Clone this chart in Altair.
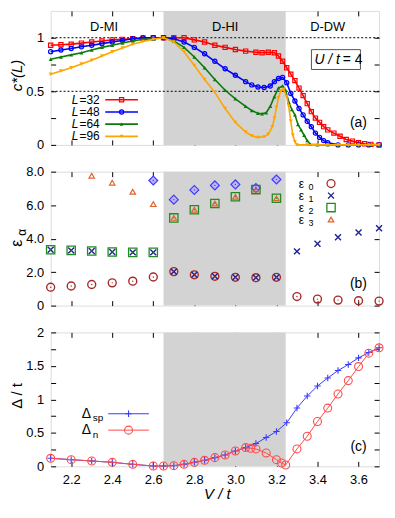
import altair as alt
import pandas as pd

FONT = "Liberation Sans"
W, H = 331, 135
SX = W / 335.0
XDOM = [2.1, 3.7]
XTICKS = [2.2, 2.4, 2.6, 2.8, 3.0, 3.2, 3.4, 3.6]
SHADE_FROM = [2.65]
SHADE_TO = [3.245]

# ---------------- panel (a): c*(L) ----------------
A_V32 = [2.10, 2.15, 2.20, 2.25, 2.30, 2.35, 2.40, 2.45, 2.50, 2.55, 2.60, 2.65, 2.70, 2.75,
         2.80, 2.85, 2.90, 2.95, 3.00, 3.05, 3.10, 3.13, 3.16, 3.19, 3.21, 3.23, 3.25, 3.27,
         3.29, 3.31, 3.33, 3.35, 3.37, 3.39, 3.41, 3.43, 3.45, 3.48, 3.51, 3.54, 3.57, 3.60,
         3.63, 3.66, 3.70]
A_C32 = [0.93, 0.935, 0.94, 0.95, 0.96, 0.97, 0.98, 0.985, 0.99, 0.995, 1.0, 1.0, 1.0, 1.0,
         0.98, 0.96, 0.93, 0.91, 0.89, 0.875, 0.865, 0.86, 0.865, 0.86, 0.83, 0.78, 0.72, 0.66,
         0.60, 0.53, 0.46, 0.385, 0.31, 0.25, 0.21, 0.17, 0.14, 0.11, 0.08, 0.05, 0.035, 0.02,
         0.01, 0.005, 0.0]
A_V48 = [2.10, 2.15, 2.20, 2.25, 2.30, 2.35, 2.40, 2.45, 2.50, 2.55, 2.60, 2.65, 2.70, 2.75,
         2.80, 2.85, 2.90, 2.95, 3.00, 3.05, 3.08, 3.11, 3.14, 3.17, 3.19, 3.21, 3.23, 3.25,
         3.27, 3.29, 3.31, 3.33, 3.35, 3.37, 3.39, 3.41, 3.43, 3.45, 3.50, 3.55, 3.60, 3.65, 3.70]
A_C48 = [0.87, 0.885, 0.90, 0.915, 0.93, 0.945, 0.96, 0.975, 0.99, 1.0, 1.0, 1.0, 0.99, 0.96,
         0.91, 0.85, 0.78, 0.71, 0.65, 0.59, 0.56, 0.54, 0.535, 0.55, 0.59, 0.62, 0.63, 0.58,
         0.48, 0.41, 0.34, 0.28, 0.22, 0.17, 0.11, 0.07, 0.04, 0.02, 0.0, 0.0, 0.0, 0.0, 0.0]
A_V64 = [2.10, 2.15, 2.20, 2.25, 2.30, 2.35, 2.40, 2.45, 2.50, 2.55, 2.60, 2.65, 2.70, 2.75,
         2.80, 2.85, 2.90, 2.95, 3.00, 3.05, 3.08, 3.11, 3.13, 3.15, 3.17, 3.19, 3.21, 3.23,
         3.245, 3.26, 3.275, 3.29, 3.305, 3.32, 3.335, 3.35, 3.365, 3.40, 3.45, 3.50, 3.55,
         3.60, 3.65, 3.70]
A_C64 = [0.80, 0.82, 0.84, 0.86, 0.885, 0.91, 0.93, 0.95, 0.97, 0.985, 0.99, 1.0, 0.97, 0.91,
         0.82, 0.72, 0.61, 0.51, 0.43, 0.36, 0.32, 0.295, 0.29, 0.30, 0.36, 0.45, 0.53, 0.55,
         0.51, 0.40, 0.33, 0.28, 0.19, 0.14, 0.09, 0.04, 0.005, 0.0, 0.0, 0.0, 0.0,
         0.0, 0.0, 0.0]
A_V96 = [2.10, 2.15, 2.20, 2.25, 2.30, 2.35, 2.40, 2.45, 2.50, 2.55, 2.60, 2.65, 2.70, 2.75,
         2.80, 2.85, 2.90, 2.95, 3.00, 3.05, 3.08, 3.11, 3.14, 3.16, 3.18, 3.19, 3.20, 3.21,
         3.22, 3.235, 3.25, 3.26, 3.27, 3.28, 3.29, 3.30, 3.35, 3.40, 3.45, 3.50, 3.55, 3.60,
         3.65, 3.70]
A_C96 = [0.66, 0.69, 0.72, 0.755, 0.79, 0.83, 0.87, 0.905, 0.94, 0.965, 0.985, 1.0, 0.96, 0.87,
         0.74, 0.61, 0.49, 0.34, 0.21, 0.12, 0.085, 0.07, 0.075, 0.10, 0.17, 0.25, 0.35, 0.44,
         0.50, 0.52, 0.45, 0.36, 0.22, 0.09, 0.03, 0.0, 0.0, 0.0, 0.0, 0.0, 0.0, 0.0,
         0.0, 0.0]
A_SIZES = ["32", "48", "64", "96"]
A_COLORS = ["#ff0000", "#0000ff", "#0b7a0b", "#ffa500"]
A_SHAPES = ["square", "circle", "triangle-up", "triangle-down"]
A_FILLED = [False, False, True, True]
REGION_NAMES = ["D-MI", "D-HI", "D-DW"]
REGION_AT = [2.36, 2.95, 3.45]

# ---------------- panel (b): entanglement spectrum ----------------
B_V = [2.1, 2.2, 2.3, 2.4, 2.5, 2.6, 2.7, 2.8, 2.9, 3.0, 3.1, 3.2, 3.3, 3.4, 3.5, 3.6, 3.7]
B_E0 = [1.10, 1.17, 1.26, 1.36, 1.46, 1.71, 2.03, 1.84, 1.75, 1.69, 1.67, 1.69,
        0.54, 0.39, 0.33, 0.29, 0.27]
B_E1 = [3.34, 3.30, 3.26, 3.20, 3.18, 3.18, 2.03, 1.84, 1.75, 1.69, 1.67, 1.69,
        3.24, 3.69, 4.08, 4.37, 4.62]
B_E2 = [3.34, 3.30, 3.26, 3.20, 3.18, 3.18, 5.24, 5.73, 6.10, 6.50, 6.93, 6.41,
        None, None, None, None, None]
B_E3 = [None, None, 7.76, 7.34, 6.80, 6.06, 5.24, 5.73, 6.10, 6.50, 6.93, 6.41,
        None, None, None, None, None]
B_EX = [None, None, None, None, None, 7.47, 6.33, 6.91, 7.18, 7.24, 7.03, 7.53,
        None, None, None, None, None]

# ---------------- panel (c): gaps ----------------
C_VSP = [2.1, 2.2, 2.3, 2.4, 2.5, 2.6, 2.65, 2.7, 2.75, 2.8, 2.85, 2.9, 2.95, 3.0, 3.05,
         3.1, 3.15, 3.2, 3.25, 3.3, 3.35, 3.4, 3.45, 3.5, 3.55, 3.6, 3.65, 3.7]
C_DSP = [0.12, 0.10, 0.08, 0.06, 0.03, 0.005, 0.005, 0.01, 0.03, 0.06, 0.09, 0.13, 0.17,
         0.23, 0.28, 0.34, 0.43, 0.52, 0.65, 0.87, 1.05, 1.20, 1.32, 1.43, 1.52, 1.62,
         1.70, 1.77]
C_VN = [2.1, 2.2, 2.3, 2.4, 2.5, 2.6, 2.65, 2.7, 2.75, 2.8, 2.85, 2.9, 2.95, 3.0, 3.05,
        3.075, 3.1, 3.15, 3.2, 3.225, 3.245, 3.3, 3.35, 3.4, 3.45, 3.5, 3.55, 3.6, 3.65, 3.7]
C_DN = [0.12, 0.10, 0.08, 0.06, 0.03, 0.005, 0.005, 0.01, 0.03, 0.06, 0.09, 0.13, 0.17,
        0.23, 0.28, 0.27, 0.26, 0.20, 0.10, 0.05, 0.02, 0.26, 0.45, 0.67, 0.87, 1.08,
        1.28, 1.49, 1.69, 1.77]

ONE = pd.DataFrame({"k": [0]})
PLUS = "M-1,0L1,0M0,-1L0,1"
XMARK = "M-1,-1L1,1M-1,1L1,-1"


def xsc():
    return alt.Scale(domain=XDOM, nice=False, zero=False)


def ysc(d):
    return alt.Scale(domain=d, nice=False, zero=False)


def frame(ydom, yticks, ylabel_expr, xlabels):
    df = pd.DataFrame({"V": [XDOM[0]], "y": [ydom[0]]})
    common = dict(domain=False, grid=False, tickSize=5, tickColor="black", tickWidth=1,
                  offset=-5, title=None, labelFont=FONT, labelFontSize=13,
                  labelColor="black", labelFlush=False, labelOverlap=False,
                  minExtent=0)
    bottom = alt.Axis(orient="bottom", values=XTICKS, labels=xlabels, labelPadding=7,
                      format=".1f", **common)
    left = alt.Axis(orient="left", values=yticks, labelExpr=ylabel_expr, labelPadding=7,
                    **common)
    top = alt.Axis(orient="top", values=XTICKS, labels=False, maxExtent=0, **common)
    right = alt.Axis(orient="right", values=yticks, labels=False, maxExtent=0, **common)
    l1 = alt.Chart(df).mark_point(opacity=0, size=1).encode(
        x=alt.X("V:Q", scale=xsc(), axis=bottom), y=alt.Y("y:Q", scale=ysc(ydom), axis=left))
    l2 = alt.Chart(df).mark_point(opacity=0, size=1).encode(
        x=alt.X("V:Q", scale=xsc(), axis=top), y=alt.Y("y:Q", scale=ysc(ydom), axis=right))
    return [l1, l2]


def shade():
    df = pd.DataFrame({"v1": SHADE_FROM, "v2": SHADE_TO})
    return alt.Chart(df).mark_rect(color="#d3d3d3").encode(
        x=alt.X("v1:Q", scale=xsc(), axis=None), x2="v2:Q",
        y=alt.value(0), y2=alt.value(H))


def series(v, y, ydom, color, shape, size, filled, line=True, lw=1.5, fill=None, sw=1.0):
    df = pd.DataFrame({"V": v, "y": y}).dropna()
    enc = dict(x=alt.X("V:Q", scale=xsc(), axis=None), y=alt.Y("y:Q", scale=ysc(ydom), axis=None))
    out = []
    if line:
        out.append(alt.Chart(df).mark_line(color=color, strokeWidth=lw).encode(**enc))
    kw = dict(shape=shape, size=size, opacity=1, strokeWidth=sw)
    if fill is not None:
        kw.update(filled=True, fill=fill, stroke=color, fillOpacity=1)
    elif filled:
        kw.update(filled=True, color=color)
    else:
        kw.update(filled=False, color=color)
    out.append(alt.Chart(df).mark_point(**kw).encode(**enc))
    return out


def text(t, x, y, size=13, align="center", style="normal", angle=0, baseline="middle", color="black"):
    kw = dict(text=t, font=FONT, fontSize=size, align=align, baseline=baseline,
              fontStyle=style, color=color)
    if angle:
        kw["angle"] = angle
    return alt.Chart(ONE).mark_text(**kw).encode(x=alt.value(x), y=alt.value(y))


def legend_row(x1, x2, y, color, shape, size, filled, lw=1.5, sw=1.0):
    r = alt.Chart(ONE).mark_rule(color=color, strokeWidth=lw).encode(
        x=alt.value(x1), x2=alt.value(x2), y=alt.value(y))
    kw = dict(shape=shape, size=size, opacity=1, strokeWidth=sw, filled=filled, color=color)
    p = alt.Chart(ONE).mark_point(**kw).encode(x=alt.value((x1 + x2) / 2), y=alt.value(y))
    return [r, p]


# ---------------- build panel (a) ----------------
AD = [0, 1.25]
la = [shade()]
la.append(alt.Chart(pd.DataFrame({"c": [0.5, 1.0]})).mark_rule(
    color="black", strokeDash=[2, 2], strokeWidth=1).encode(
    y=alt.Y("c:Q", scale=ysc(AD), axis=None)))
for v, c, col, shp, fl in zip([A_V32, A_V48, A_V64, A_V96], [A_C32, A_C48, A_C64, A_C96],
                             A_COLORS, A_SHAPES, A_FILLED):
    la += series(v, c, AD, col, shp, 16 if fl else 18, fl, lw=1.6, sw=1.2)
la.append(alt.Chart(pd.DataFrame({"n": REGION_NAMES, "V": REGION_AT})).mark_text(
    font=FONT, fontSize=13, color="black").encode(
    x=alt.X("V:Q", scale=xsc(), axis=None), y=alt.value(16), text="n:N"))
la.append(alt.Chart(ONE).mark_rect(fill="white", stroke="#555555", strokeWidth=1).encode(
    x=alt.value(266 * SX), x2=alt.value(316 * SX), y=alt.value(39), y2=alt.value(59)))
la.append(text("U / t", 295 * SX, 49, size=14, align="right", style="italic"))
la.append(text("= 4", 298 * SX, 49, size=14, align="left"))
la.append(text("(a)", 314 * SX, 113, size=14))
for i, (s, col, shp, fl) in enumerate(zip(A_SIZES, A_COLORS, A_SHAPES, A_FILLED)):
    yy = 89.5 + 12.3 * i
    la.append(text("L", 28, yy, size=12, align="right", style="italic"))
    la.append(text("=" + s, 29, yy, size=12, align="left"))
    la += legend_row(55, 88, yy, col, shp, 16 if fl else 18, fl, lw=1.6, sw=1.2)
la.append(text("c*(L)", -34, 65, size=15, style="italic", angle=270))
la += frame(AD, [0, 0.25, 0.5, 0.75, 1.0],
            "datum.value == 0.5 ? '0.5' : (datum.value == 0 || datum.value == 1) ? format(datum.value, 'd') : ''",
            False)
panel_a = alt.layer(*la).resolve_axis(x="independent", y="independent").properties(width=W, height=H)

# ---------------- build panel (b) ----------------
BD = [0, 8]
E0C, E1C, E2C, E3C = "#a52a2a", "#1f1f96", "#228b22", "#e0642c"
EXS, EXF = "#3c3cff", "#c4b4f4"
lb = [shade()]
lb += series(B_V, B_EX, BD, EXS, "diamond", 80, True, line=False, fill=EXF, sw=1.2)
lb += series(B_V, B_E2, BD, E2C, "square", 70, False, line=False, sw=1.3)
lb += series(B_V, B_E3, BD, E3C, "triangle-up", 30, False, line=False, sw=1.2)
lb += series(B_V, B_E0, BD, E0C, "circle", 64, False, line=False, sw=1.4)
lb += series(B_V, B_E1, BD, E1C, XMARK, 36, False, line=False, sw=1.4)
for arr, col in [(B_E0, E0C), (B_E2, E2C), (B_EX, EXS)]:
    lb += series(B_V, arr, BD, col, "circle", 2, True, line=False)
EPS_COLORS = [E0C, E1C, E2C, E3C]
EPS_SHAPES = ["circle", XMARK, "square", "triangle-up"]
EPS_SIZES = [64, 36, 70, 30]
for i in range(4):
    yy = 12 + 12.1 * i
    lb.append(text("\u03b5", 253 * SX, yy, size=12, align="left"))
    lb.append(text(str(i), 253 * SX + 10, yy + 3.5, size=9, align="left"))
    lb.append(alt.Chart(ONE).mark_point(shape=EPS_SHAPES[i], size=EPS_SIZES[i], filled=False,
                                        color=EPS_COLORS[i], opacity=1, strokeWidth=1.3).encode(
        x=alt.value(286 * SX), y=alt.value(yy)))
lb.append(text("(b)", 314 * SX, 113, size=14))
lb.append(text("\u03b5", -34, 72, size=16, angle=270))
lb.append(text("\u03b1", -29, 61, size=12, angle=270))
lb += frame(BD, [0, 2, 4, 6, 8],
            "datum.value == 0 ? '0' : format(datum.value, '.1f')", False)
panel_b = alt.layer(*lb).resolve_axis(x="independent", y="independent").properties(width=W, height=H)

# ---------------- build panel (c) ----------------
CD = [0, 2]
SPC, NC = "#3a3aff", "#ff4a4a"
lc = [shade()]
lc += series(C_VSP, C_DSP, CD, SPC, PLUS, 42, False, lw=1, sw=1.1)
lc += series(C_VN, C_DN, CD, NC, "circle", 64, False, lw=1, sw=1.1)
lc.append(text("\u0394", 36, 82, size=14))
lc.append(text("sp", 42.5, 86.5, size=10, align="left"))
lc += legend_row(58, 99, 82, SPC, PLUS, 42, False, lw=1, sw=1.1)
lc.append(text("\u0394", 36, 98.5, size=14))
lc.append(text("n", 42.5, 103, size=10, align="left"))
lc += legend_row(58, 99, 98.5, NC, "circle", 64, False, lw=1, sw=1.1)
lc.append(text("(c)", 314 * SX, 116, size=14))
lc.append(text("\u0394 / t", -34, 64, size=15, angle=270))
lc.append(text("V / t", 170 * SX, H + 28, size=15, style="italic"))
lc += frame(CD, [0, 0.25, 0.5, 0.75, 1.0, 1.25, 1.5, 1.75, 2.0],
            "(datum.value * 2) % 1 == 0 ? format(datum.value, '~g') : ''", True)
panel_c = alt.layer(*lc).resolve_axis(x="independent", y="independent").properties(width=W, height=H)

chart = alt.vconcat(panel_a, panel_b, panel_c, spacing=27, bounds="flush").properties(
    padding={"left": 0, "top": 0, "right": 0, "bottom": 0}
).configure_view(stroke="black", strokeWidth=1).configure(background="white")

chart.save("out.html", embed_options={"renderer": "svg", "actions": False})
